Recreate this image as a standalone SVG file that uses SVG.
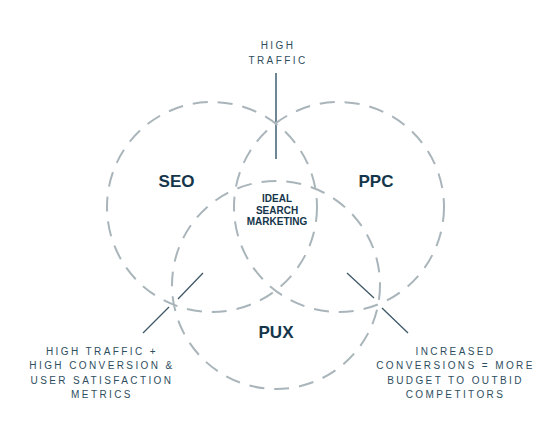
<svg xmlns="http://www.w3.org/2000/svg" width="557" height="448" viewBox="0 0 557 448">
<style>
.c{fill:none;stroke:#a9b5ba;stroke-width:2;stroke-dasharray:15 10}
.ld{stroke:#3e5866;stroke-width:1.3;fill:none}
.vl{stroke:#6e8792;stroke-width:2;fill:none}
.sm{font-family:"Liberation Sans",Arial,sans-serif;font-size:10px;letter-spacing:2.4px;fill:#2e4e5e;text-anchor:middle}
.big{font-family:"Liberation Sans",Arial,sans-serif;font-size:17px;font-weight:bold;fill:#15364a;text-anchor:middle}
.mid{font-family:"Liberation Sans",Arial,sans-serif;font-size:10px;font-weight:bold;fill:#15364a;text-anchor:middle}
</style>
<rect width="557" height="448" fill="#ffffff"/>
<g id="connectors">
<line class="vl" x1="276" y1="73" x2="276" y2="159"/>
<line class="ld" x1="203" y1="273" x2="178" y2="299"/>
<line class="ld" x1="169" y1="307" x2="143" y2="333"/>
<line class="ld" x1="347" y1="273" x2="374" y2="298"/>
<line class="ld" x1="382" y1="308" x2="408" y2="333"/>
</g>
<g id="seo">
<circle class="c" cx="212" cy="207" r="105"/>
<text class="big" x="176.5" y="187">SEO</text>
</g>
<g id="ppc">
<circle class="c" cx="339" cy="207" r="105"/>
<text class="big" x="376" y="187">PPC</text>
</g>
<g id="pux">
<circle class="c" cx="276" cy="285" r="104"/>
<text class="big" x="276" y="338">PUX</text>
</g>
<g id="ideal">
<text class="mid" x="277" y="202">IDEAL</text>
<text class="mid" x="277" y="213.6">SEARCH</text>
<text class="mid" x="277" y="225.3">MARKETING</text>
</g>
<g id="high-traffic">
<text class="sm" x="278" y="49">HIGH</text>
<text class="sm" x="278" y="64">TRAFFIC</text>
</g>
<g id="left-label">
<text class="sm" x="102" y="354.5">HIGH TRAFFIC +</text>
<text class="sm" x="102" y="369">HIGH CONVERSION &amp;</text>
<text class="sm" x="102" y="383.5">USER SATISFACTION</text>
<text class="sm" x="102" y="398">METRICS</text>
</g>
<g id="right-label">
<text class="sm" x="455.5" y="354.5">INCREASED</text>
<text class="sm" x="455.5" y="369">CONVERSIONS = MORE</text>
<text class="sm" x="455.5" y="383.5">BUDGET TO OUTBID</text>
<text class="sm" x="455.5" y="398">COMPETITORS</text>
</g>
</svg>
